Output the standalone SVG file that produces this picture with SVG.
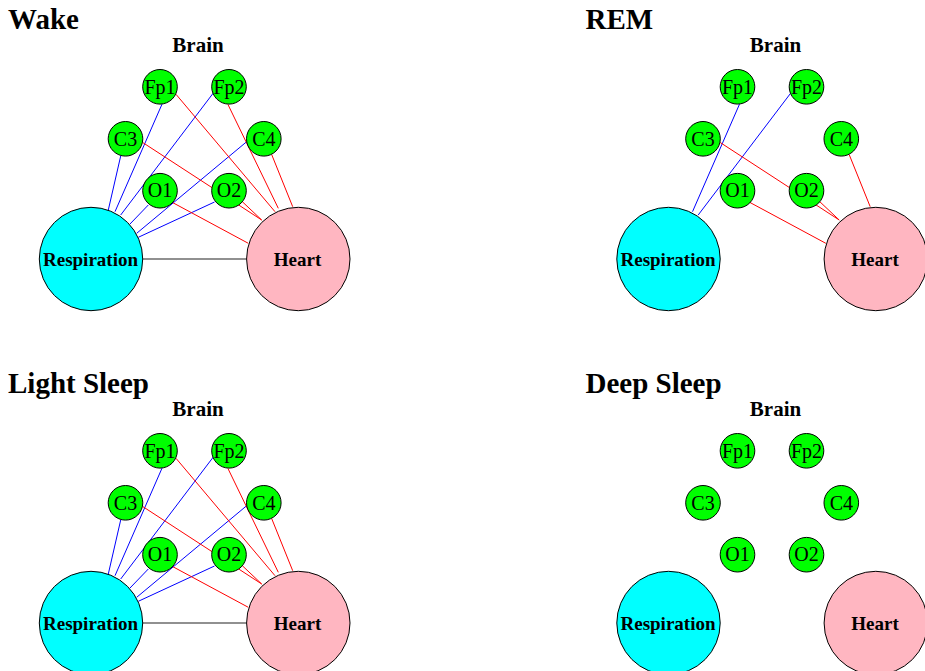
<svg xmlns="http://www.w3.org/2000/svg" width="925" height="671" viewBox="0 0 925 671">
<style>
.title{font-family:"Liberation Serif","Times New Roman",serif;font-weight:bold;font-size:29px;fill:#000}
.brain{font-family:"Liberation Serif","Times New Roman",serif;font-weight:bold;font-size:21px;fill:#000;text-anchor:middle}
.lbl{font-family:"Liberation Serif","Times New Roman",serif;font-size:20px;fill:#000;text-anchor:middle}
.big{font-family:"Liberation Serif","Times New Roman",serif;font-weight:bold;font-size:19px;fill:#000;text-anchor:middle}
.eeg{fill:#00FF00;stroke:#000;stroke-width:1}
.resp{fill:#00FFFF;stroke:#000;stroke-width:1}
.heart{fill:#FFB6C1;stroke:#000;stroke-width:1}
.b{stroke:#0000FF;stroke-width:1;fill:none}
.r{stroke:#FF0000;stroke-width:1;fill:none}
.k{stroke:#222;stroke-width:1.2;fill:none}
</style>
<rect width="925" height="671" fill="#fff"/>

<!-- Wake -->
<g id="wake">
<text class="title" x="8" y="29">Wake</text>
<text class="brain" x="198" y="52">Brain</text>
<g id="wake-edges">
<line class="b" x1="108.3" y1="210" x2="120.7" y2="156"/>
<line class="b" x1="115" y1="211.7" x2="162" y2="104.2"/>
<line class="b" x1="120.7" y1="215" x2="213.3" y2="93"/>
<line class="b" x1="130" y1="224" x2="148.3" y2="205"/>
<line class="b" x1="136.7" y1="233.3" x2="246.7" y2="141.7"/>
<line class="b" x1="138.3" y1="237.3" x2="214.5" y2="202"/>
<line class="r" x1="275" y1="211.7" x2="176" y2="94.3"/>
<line class="r" x1="278.3" y1="208.3" x2="228" y2="104.6"/>
<line class="r" x1="292.7" y1="206.7" x2="271.7" y2="154.6"/>
<line class="r" x1="261.7" y1="220" x2="142.7" y2="142.5"/>
<line class="r" x1="261.7" y1="220" x2="242.3" y2="201.7"/>
<line class="r" x1="248.3" y1="243.3" x2="172.5" y2="202.5"/>
<line class="k" x1="142.7" y1="259" x2="246.6" y2="259"/>
</g>
<g id="wake-Fp1"><circle class="eeg" cx="160" cy="86.8" r="17.3"/><text class="lbl" x="160" y="93.5">Fp1</text></g>
<g id="wake-Fp2"><circle class="eeg" cx="229" cy="86.8" r="17.3"/><text class="lbl" x="229" y="93.5">Fp2</text></g>
<g id="wake-C3"><circle class="eeg" cx="125.5" cy="138.8" r="17.3"/><text class="lbl" x="125.5" y="145.5">C3</text></g>
<g id="wake-C4"><circle class="eeg" cx="263.8" cy="138.8" r="17.3"/><text class="lbl" x="263.8" y="145.5">C4</text></g>
<g id="wake-O1"><circle class="eeg" cx="160" cy="190.7" r="17.3"/><text class="lbl" x="160" y="197.4">O1</text></g>
<g id="wake-O2"><circle class="eeg" cx="229" cy="190.7" r="17.3"/><text class="lbl" x="229" y="197.4">O2</text></g>
<g id="wake-Respiration"><circle class="resp" cx="91" cy="259" r="51.7"/><text class="big" x="90.5" y="266">Respiration</text></g>
<g id="wake-Heart"><circle class="heart" cx="298.3" cy="259" r="51.7"/><text class="big" x="297.5" y="266">Heart</text></g>
</g>

<!-- REM -->
<g id="rem" transform="translate(577.5,0)">
<text class="title" x="8" y="29">REM</text>
<text class="brain" x="198" y="52">Brain</text>
<g id="rem-edges">
<line class="b" x1="115" y1="211.7" x2="162" y2="104.2"/>
<line class="b" x1="120.7" y1="215" x2="213.3" y2="93"/>
<line class="r" x1="292.7" y1="206.7" x2="271.7" y2="154.6"/>
<line class="r" x1="261.7" y1="220" x2="142.7" y2="142.5"/>
<line class="r" x1="261.7" y1="220" x2="242.3" y2="201.7"/>
<line class="r" x1="248.3" y1="243.3" x2="172.5" y2="202.5"/>
</g>
<g id="rem-Fp1"><circle class="eeg" cx="160" cy="86.8" r="17.3"/><text class="lbl" x="160" y="93.5">Fp1</text></g>
<g id="rem-Fp2"><circle class="eeg" cx="229" cy="86.8" r="17.3"/><text class="lbl" x="229" y="93.5">Fp2</text></g>
<g id="rem-C3"><circle class="eeg" cx="125.5" cy="138.8" r="17.3"/><text class="lbl" x="125.5" y="145.5">C3</text></g>
<g id="rem-C4"><circle class="eeg" cx="263.8" cy="138.8" r="17.3"/><text class="lbl" x="263.8" y="145.5">C4</text></g>
<g id="rem-O1"><circle class="eeg" cx="160" cy="190.7" r="17.3"/><text class="lbl" x="160" y="197.4">O1</text></g>
<g id="rem-O2"><circle class="eeg" cx="229" cy="190.7" r="17.3"/><text class="lbl" x="229" y="197.4">O2</text></g>
<g id="rem-Respiration"><circle class="resp" cx="91" cy="259" r="51.7"/><text class="big" x="90.5" y="266">Respiration</text></g>
<g id="rem-Heart"><circle class="heart" cx="298.3" cy="259" r="51.7"/><text class="big" x="297.5" y="266">Heart</text></g>
</g>

<!-- Light Sleep -->
<g id="light" transform="translate(0,364)">
<text class="title" x="8" y="29">Light Sleep</text>
<text class="brain" x="198" y="52">Brain</text>
<g id="light-edges">
<line class="b" x1="108.3" y1="210" x2="120.7" y2="156"/>
<line class="b" x1="115" y1="211.7" x2="162" y2="104.2"/>
<line class="b" x1="120.7" y1="215" x2="213.3" y2="93"/>
<line class="b" x1="130" y1="224" x2="148.3" y2="205"/>
<line class="b" x1="136.7" y1="233.3" x2="246.7" y2="141.7"/>
<line class="b" x1="138.3" y1="237.3" x2="214.5" y2="202"/>
<line class="r" x1="275" y1="211.7" x2="176" y2="94.3"/>
<line class="r" x1="278.3" y1="208.3" x2="228" y2="104.6"/>
<line class="r" x1="292.7" y1="206.7" x2="271.7" y2="154.6"/>
<line class="r" x1="261.7" y1="220" x2="142.7" y2="142.5"/>
<line class="r" x1="261.7" y1="220" x2="242.3" y2="201.7"/>
<line class="r" x1="248.3" y1="243.3" x2="172.5" y2="202.5"/>
<line class="k" x1="142.7" y1="259" x2="246.6" y2="259"/>
</g>
<g id="light-Fp1"><circle class="eeg" cx="160" cy="86.8" r="17.3"/><text class="lbl" x="160" y="93.5">Fp1</text></g>
<g id="light-Fp2"><circle class="eeg" cx="229" cy="86.8" r="17.3"/><text class="lbl" x="229" y="93.5">Fp2</text></g>
<g id="light-C3"><circle class="eeg" cx="125.5" cy="138.8" r="17.3"/><text class="lbl" x="125.5" y="145.5">C3</text></g>
<g id="light-C4"><circle class="eeg" cx="263.8" cy="138.8" r="17.3"/><text class="lbl" x="263.8" y="145.5">C4</text></g>
<g id="light-O1"><circle class="eeg" cx="160" cy="190.7" r="17.3"/><text class="lbl" x="160" y="197.4">O1</text></g>
<g id="light-O2"><circle class="eeg" cx="229" cy="190.7" r="17.3"/><text class="lbl" x="229" y="197.4">O2</text></g>
<g id="light-Respiration"><circle class="resp" cx="91" cy="259" r="51.7"/><text class="big" x="90.5" y="266">Respiration</text></g>
<g id="light-Heart"><circle class="heart" cx="298.3" cy="259" r="51.7"/><text class="big" x="297.5" y="266">Heart</text></g>
</g>

<!-- Deep Sleep -->
<g id="deep" transform="translate(577.5,364)">
<text class="title" x="8" y="29">Deep Sleep</text>
<text class="brain" x="198" y="52">Brain</text>
<g id="deep-edges"></g>
<g id="deep-Fp1"><circle class="eeg" cx="160" cy="86.8" r="17.3"/><text class="lbl" x="160" y="93.5">Fp1</text></g>
<g id="deep-Fp2"><circle class="eeg" cx="229" cy="86.8" r="17.3"/><text class="lbl" x="229" y="93.5">Fp2</text></g>
<g id="deep-C3"><circle class="eeg" cx="125.5" cy="138.8" r="17.3"/><text class="lbl" x="125.5" y="145.5">C3</text></g>
<g id="deep-C4"><circle class="eeg" cx="263.8" cy="138.8" r="17.3"/><text class="lbl" x="263.8" y="145.5">C4</text></g>
<g id="deep-O1"><circle class="eeg" cx="160" cy="190.7" r="17.3"/><text class="lbl" x="160" y="197.4">O1</text></g>
<g id="deep-O2"><circle class="eeg" cx="229" cy="190.7" r="17.3"/><text class="lbl" x="229" y="197.4">O2</text></g>
<g id="deep-Respiration"><circle class="resp" cx="91" cy="259" r="51.7"/><text class="big" x="90.5" y="266">Respiration</text></g>
<g id="deep-Heart"><circle class="heart" cx="298.3" cy="259" r="51.7"/><text class="big" x="297.5" y="266">Heart</text></g>
</g>
</svg>
